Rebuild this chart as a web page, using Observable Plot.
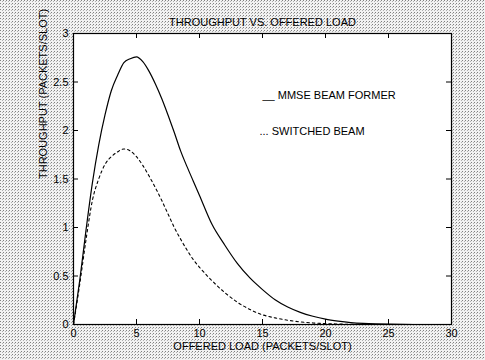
<!DOCTYPE html>
<html>
<head>
<meta charset="utf-8">
<script src="https://cdn.jsdelivr.net/npm/d3@7"></script>
<script src="https://cdn.jsdelivr.net/npm/@observablehq/plot@0.6"></script>
<style>
  html, body { margin: 0; padding: 0; background: #fff; }
  #chart { width: 485px; height: 360px; }
</style>
</head>
<body>
<div id="chart"></div>
<script>
// Offered load (packets/slot)
const loadX = [0, 0.5, 1, 1.5, 2, 2.5, 3, 3.5, 4, 4.5, 5, 5.5, 6, 6.5, 7, 7.5, 8, 8.5, 9, 9.5, 10,
               11, 12, 13, 14, 15, 16, 17, 18, 19, 20, 21, 22, 23, 24, 25, 26, 27, 28, 29, 30];
// MMSE beam former throughput
const mmseY = [0, 0.46, 0.98, 1.46, 1.85, 2.16, 2.41, 2.57, 2.70, 2.74, 2.76, 2.71, 2.61, 2.48, 2.33, 2.16, 1.98, 1.79, 1.63, 1.48, 1.33,
               1.03, 0.82, 0.63, 0.48, 0.36, 0.255, 0.18, 0.125, 0.085, 0.055, 0.035, 0.02, 0.011, 0.006, 0.003, 0.001, 0, 0, 0, 0];
// Switched beam throughput
const switchedY = [0, 0.42, 0.88, 1.28, 1.50, 1.65, 1.73, 1.78, 1.81, 1.79, 1.73, 1.64, 1.53, 1.41, 1.28, 1.14, 1.00, 0.88, 0.77, 0.67, 0.59,
                   0.45, 0.33, 0.23, 0.155, 0.10, 0.068, 0.044, 0.027, 0.016, 0.009, 0.005, 0.002, 0.001, 0, 0, 0, 0, 0, 0, 0];

const xTicks = [0, 5, 10, 15, 20, 25, 30];
const yTicks = [0, 0.5, 1, 1.5, 2, 2.5, 3];
const yTickLabels = ["0", "0.5", "1", "1.5", "2", "2.5", "3"];

const titleText = "THROUGHPUT VS. OFFERED LOAD";
const xLabel = "OFFERED LOAD (PACKETS/SLOT)";
const yLabel = "THROUGHPUT (PACKETS/SLOT)";
const legendItems = ["__ MMSE BEAM FORMER", "... SWITCHED BEAM"];

const mmse = loadX.map((x, i) => ({x, y: mmseY[i]}));
const switched = loadX.map((x, i) => ({x, y: switchedY[i]}));

const W = 485, H = 360;
const mL = 73, mR = 34, mT = 33, mB = 36;
const xDom = [0, 30], yDom = [0, 3];
const tickPx = 5;
const tx = tickPx * (xDom[1] - xDom[0]) / (W - mL - mR);
const ty = tickPx * (yDom[1] - yDom[0]) / (H - mT - mB);

const font = "'Liberation Sans', Arial, Helvetica, sans-serif";
const bg = "url(\"data:image/svg+xml;utf8,<svg xmlns='http://www.w3.org/2000/svg' width='3' height='3'><rect width='3' height='3' fill='%23f2f2f2'/><rect x='0' y='0' width='1' height='1' fill='%23808080'/><rect x='2' y='1' width='1' height='1' fill='%23b0b0b0'/></svg>\")";

const chart = Plot.plot({
  width: W, height: H,
  marginLeft: mL, marginRight: mR, marginTop: mT, marginBottom: mB,
  style: {background: "#e0e0e0", fontFamily: font, fontSize: "11px", color: "black", backgroundImage: bg},
  x: {domain: xDom, ticks: xTicks, label: null},
  y: {domain: yDom, ticks: yTicks, label: null},
  marks: [
    Plot.frame({fill: "white", stroke: "none"}),
    Plot.line(switched, {x: "x", y: "y", stroke: "black", strokeWidth: 1.1, strokeDasharray: "2.5,3", curve: "monotone-x"}),
    Plot.line(mmse, {x: "x", y: "y", stroke: "black", strokeWidth: 1.2, curve: "monotone-x"}),
    Plot.frame({stroke: "black", strokeWidth: 1.2}),
    // inward ticks on all four sides
    Plot.ruleX(xTicks, {x: d => d, y1: yDom[0], y2: yDom[0] + ty, stroke: "black"}),
    Plot.ruleX(xTicks, {x: d => d, y1: yDom[1] - ty, y2: yDom[1], stroke: "black"}),
    Plot.ruleY(yTicks, {y: d => d, x1: xDom[0], x2: xDom[0] + tx, stroke: "black"}),
    Plot.ruleY(yTicks, {y: d => d, x1: xDom[1] - tx, x2: xDom[1], stroke: "black"}),
    Plot.axisX(xTicks, {tickSize: 0, tickPadding: 5, fontSize: 11}),
    Plot.axisY(yTicks, {tickSize: 0, tickPadding: 5, fontSize: 11, tickFormat: (d, i) => yTickLabels[i]}),
    Plot.text([titleText], {frameAnchor: "top", dy: -15, fontSize: 11}),
    Plot.text([xLabel], {frameAnchor: "bottom", dy: 25, fontSize: 11}),
    Plot.text([yLabel], {frameAnchor: "left", dx: -30, rotate: -90, fontSize: 11}),
    Plot.text([legendItems[0]], {frameAnchor: "top-left", dx: 189, dy: 58, textAnchor: "start", fontSize: 11}),
    Plot.text([legendItems[1]], {frameAnchor: "top-left", dx: 186, dy: 94, textAnchor: "start", fontSize: 11})
  ]
});
document.getElementById("chart").appendChild(chart);
</script>
</body>
</html>
